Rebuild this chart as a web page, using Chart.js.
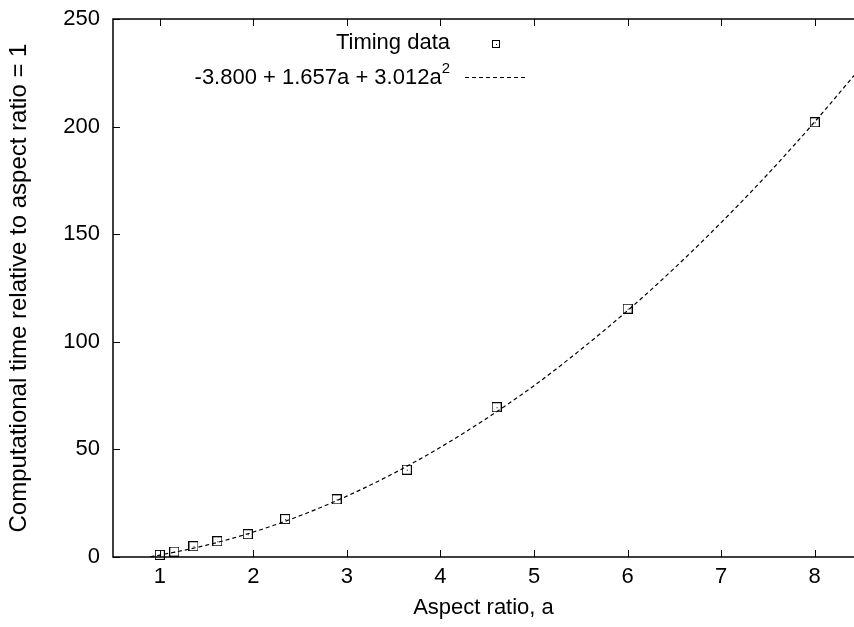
<!doctype html>
<html lang="en">
<head>
    <meta charset="utf-8">
    <title>Timing data vs aspect ratio</title>
    <style>
        * {
            margin: 0;
            padding: 0;
        }

        body {
            background: #fff;
        }

        .chartBox {
            width: 854px;
            height: 627px;
        }
    </style>
</head>
<body>
<div class="chartBox">
    <canvas id="myChart"></canvas>
</div>
<script src="https://cdn.jsdelivr.net/npm/chart.js"></script>
<script>
    // data
    const aspectRatio = [1, 1.155, 1.36, 1.615, 1.94, 2.34, 2.89, 3.64, 4.6, 6, 8];
    const relTime = [1, 2.5, 5.0, 7.3, 10.6, 17.6, 26.8, 40.6, 69.6, 115.4, 202.0];

    // fitted curve
    const fitA = [0.9, 1, 1.5, 2, 2.5, 3, 3.5, 4, 4.5, 5, 5.5, 6, 6.5, 7, 7.5, 8, 8.42];
    const fitTime = [0.1, 0.9, 5.5, 11.6, 19.2, 28.3, 38.9, 51.0, 64.6, 79.6, 96.4, 114.5, 134.2, 155.4, 178.0, 202.2, 223.7];

    const xTicks = [1, 2, 3, 4, 5, 6, 7, 8];
    const yTicks = [0, 50, 100, 150, 200, 250];

    const seriesLabels = ['Timing data', '-3.800 + 1.657a + 3.012a'];
    const fitSuperscript = '2';

    const FONT = '"Liberation Sans", Arial, sans-serif';

    // boxed-dot marker like gnuplot's
    function boxMarker(size) {
        const c = document.createElement('canvas');
        c.width = size;
        c.height = size;
        const g = c.getContext('2d');
        g.strokeStyle = '#000';
        g.lineWidth = 1;
        g.strokeRect(0.5, 0.5, size - 1, size - 1);
        g.fillStyle = '#000';
        const m = Math.floor(size / 2);
        g.fillRect(m, m, 1, 1);
        return c;
    }

    const pointMarker = boxMarker(10);
    const legendMarker = boxMarker(8);

    // border, inward ticks and the key
    const frame = {
        id: 'frame',
        beforeDatasetsDraw(chart) {
            const {ctx, chartArea: {top, bottom, left, right}, scales: {x, y}} = chart;
            ctx.save();
            ctx.strokeStyle = '#000';
            ctx.lineWidth = 1.5;
            ctx.beginPath();
            ctx.moveTo(right + 2, top);
            ctx.lineTo(left, top);
            ctx.lineTo(left, bottom);
            ctx.lineTo(right + 2, bottom);
            ctx.stroke();

            ctx.lineWidth = 1;
            const len = 7;
            ctx.beginPath();
            xTicks.forEach(v => {
                const px = Math.round(x.getPixelForValue(v)) + 0.5;
                ctx.moveTo(px, bottom);
                ctx.lineTo(px, bottom - len);
                ctx.moveTo(px, top);
                ctx.lineTo(px, top + len);
            });
            yTicks.forEach(v => {
                const py = Math.round(y.getPixelForValue(v)) + 0.5;
                ctx.moveTo(left, py);
                ctx.lineTo(left + len, py);
            });
            ctx.stroke();
            ctx.restore();
        },
        afterDraw(chart) {
            const {ctx} = chart;
            ctx.save();
            ctx.fillStyle = '#000';
            ctx.textBaseline = 'middle';
            ctx.textAlign = 'right';
            ctx.font = '22px ' + FONT;
            ctx.fillText(seriesLabels[0], 450, 43);
            ctx.drawImage(legendMarker, 492, 40);

            ctx.font = '15px ' + FONT;
            const supW = ctx.measureText(fitSuperscript).width;
            ctx.fillText(fitSuperscript, 450, 69);
            ctx.font = '22px ' + FONT;
            ctx.fillText(seriesLabels[1], 450 - supW, 78);

            ctx.strokeStyle = '#000';
            ctx.lineWidth = 1;
            ctx.setLineDash([4, 3]);
            ctx.beginPath();
            ctx.moveTo(465, 77.5);
            ctx.lineTo(528, 77.5);
            ctx.stroke();
            ctx.restore();
        }
    };

    const data = {
        datasets: [{
            label: seriesLabels[0],
            data: aspectRatio.map((a, i) => ({x: a, y: relTime[i]})),
            pointStyle: pointMarker,
            pointRadius: 5,
            borderColor: '#000',
            backgroundColor: 'transparent',
            clip: false,
            order: 1
        }, {
            label: seriesLabels[1],
            data: fitA.map((a, i) => ({x: a, y: fitTime[i]})),
            showLine: true,
            borderColor: '#000',
            borderWidth: 1.2,
            borderDash: [4, 3],
            cubicInterpolationMode: 'monotone',
            pointRadius: 0,
            pointHitRadius: 0,
            order: 2
        }]
    };

    const config = {
        type: 'scatter',
        data,
        options: {
            responsive: true,
            maintainAspectRatio: false,
            animation: false,
            layout: {
                autoPadding: false,
                padding: {top: 19, right: 0, bottom: 0, left: 0}
            },
            plugins: {
                legend: {display: false},
                tooltip: {enabled: false}
            },
            scales: {
                x: {
                    type: 'linear',
                    min: 0.5,
                    max: 8.42,
                    afterBuildTicks: s => { s.ticks = xTicks.map(v => ({value: v})); },
                    afterFit: s => {
                        s.height = 70;
                        s.paddingLeft = 0;
                        s.paddingRight = 0;
                    },
                    grid: {display: false, drawTicks: false},
                    border: {display: false},
                    ticks: {
                        color: '#000',
                        padding: 7,
                        font: {family: FONT, size: 22}
                    },
                    title: {
                        display: true,
                        text: 'Aspect ratio, a',
                        color: '#000',
                        font: {family: FONT, size: 22},
                        padding: {top: 0, bottom: 6}
                    }
                },
                y: {
                    type: 'linear',
                    min: 0,
                    max: 250,
                    afterBuildTicks: s => { s.ticks = yTicks.map(v => ({value: v})); },
                    afterFit: s => {
                        s.width = 113;
                        s.paddingTop = 0;
                        s.paddingBottom = 0;
                    },
                    grid: {display: false, drawTicks: false},
                    border: {display: false},
                    ticks: {
                        color: '#000',
                        padding: 13,
                        font: {family: FONT, size: 22}
                    },
                    title: {
                        display: true,
                        text: 'Computational time relative to aspect ratio = 1',
                        color: '#000',
                        font: {family: FONT, size: 24},
                        padding: {top: 5, bottom: 0}
                    }
                }
            }
        },
        plugins: [frame]
    };

    const myChart = new Chart(document.getElementById('myChart'), config);
</script>
</body>
</html>
